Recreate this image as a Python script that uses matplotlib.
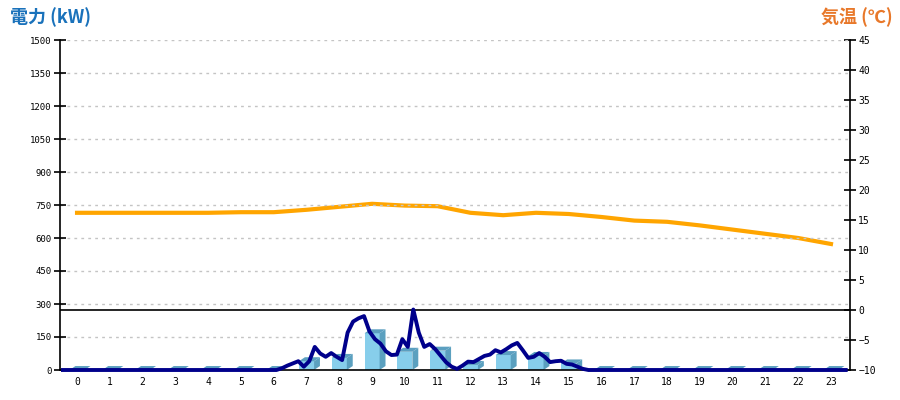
import numpy as np
import matplotlib
matplotlib.use('Agg')
import matplotlib.pyplot as plt
from matplotlib.patches import Polygon

plt.rcParams['font.family'] = ['DejaVu Sans Mono']

# 時間 (0-23時)
hours = list(range(24))

# 毎時の電力量 (kW) - 棒グラフ
power_hourly = [0, 0, 0, 0, 0, 0, 0, 40, 55, 167, 83, 88, 23, 68, 64, 30,
                0, 0, 0, 0, 0, 0, 0, 0]

# 10分ごとの電力 (kW) - 折れ線 (6時台〜16時台のみ値あり)
power_10min = ([0] * 40 +
               [8, 20, 30, 40, 15, 40, 105, 75, 60, 77,
                60, 45, 170, 220, 235, 245, 175, 140, 120, 85,
                68, 70, 140, 105, 275, 170, 105, 118, 95, 65,
                35, 15, 5, 20, 38, 36, 50, 64, 70, 90,
                80, 95, 112, 123, 90, 55, 60, 77, 60, 36,
                40, 42, 28, 25, 15, 5] +
               [0] * 48)

# 気温 (℃)
temp = [16.2, 16.2, 16.2, 16.2, 16.2, 16.3, 16.3, 16.7, 17.2, 17.7, 17.4, 17.3,
        16.2, 15.8, 16.2, 16.0, 15.5, 14.9, 14.7, 14.1, 13.4, 12.7, 12.0, 11.0]

FRONT = '#87ceeb'
SIDE = '#5ba0bf'
TOP = '#5b9fc0'


def draw_bar(ax, x, h, w=0.46, dx=0.18, dy=18):
    x0, x1 = x - w / 2, x + w / 2
    if h > 0:
        ax.add_patch(Polygon([(x0, 0), (x1, 0), (x1, h), (x0, h)],
                             closed=True, fc=FRONT, ec='none', zorder=2))
        ax.add_patch(Polygon([(x1, 0), (x1 + dx, dy), (x1 + dx, h + dy), (x1, h)],
                             closed=True, fc=SIDE, ec='none', zorder=2))
    ax.add_patch(Polygon([(x0, h), (x1, h), (x1 + dx, h + dy), (x0 + dx, h + dy)],
                         closed=True, fc=TOP, ec='none', zorder=2))


fig = plt.figure(figsize=(9, 4), dpi=100)
ax = fig.add_axes([60 / 900, 30 / 400, 790 / 900, 330 / 400])
ax2 = ax.twinx()

for h, v in zip(hours, power_hourly):
    draw_bar(ax, h, v)

t = np.linspace(-0.43, 23.45, len(power_10min))
ax.plot(t, power_10min, color='#00008b', lw=2.8, zorder=4, clip_on=False)

ax.set_xlim(-0.52, 23.58)
ax.set_ylim(0, 1500)
ax.set_yticks(np.arange(0, 1501, 150))
ax.set_xticks(hours)
ax.grid(axis='y', color='#c4c4c4', ls=(0, (2, 3)), lw=1)
ax.set_axisbelow(True)

ax2.plot(hours, temp, color='#ffa500', lw=3, zorder=3)
ax2.axhline(0, color='black', lw=1.2, zorder=3)
ax2.set_ylim(-10, 45)
ax2.set_yticks(np.arange(-10, 46, 5))

ax.set_zorder(ax2.get_zorder() + 1)
ax.patch.set_visible(False)

for a in (ax, ax2):
    a.spines['top'].set_visible(False)
    for s in a.spines.values():
        s.set_linewidth(1.2)
ax.spines['right'].set_visible(False)
ax2.spines['left'].set_visible(False)
ax2.spines['bottom'].set_visible(False)

ax.tick_params(axis='y', direction='inout', length=8, width=1.2, labelsize=6.5, pad=2)
ax2.tick_params(axis='y', direction='inout', length=8, width=1.2, labelsize=7, pad=2)
ax.tick_params(axis='x', length=0, labelsize=7, pad=5)

fig.text(10 / 900, 1 - 17 / 400, '電力 (kW)', color='#1a72bb', fontsize=13,
         fontweight='bold', family=['Noto Sans CJK JP', 'DejaVu Sans'], va='center', ha='left')
fig.text(893 / 900, 1 - 17 / 400, '気温 (℃)', color='#e8782a', fontsize=13,
         fontweight='bold', family=['Noto Sans CJK JP', 'DejaVu Sans'], va='center', ha='right')

fig.savefig('out.png', dpi=100)
